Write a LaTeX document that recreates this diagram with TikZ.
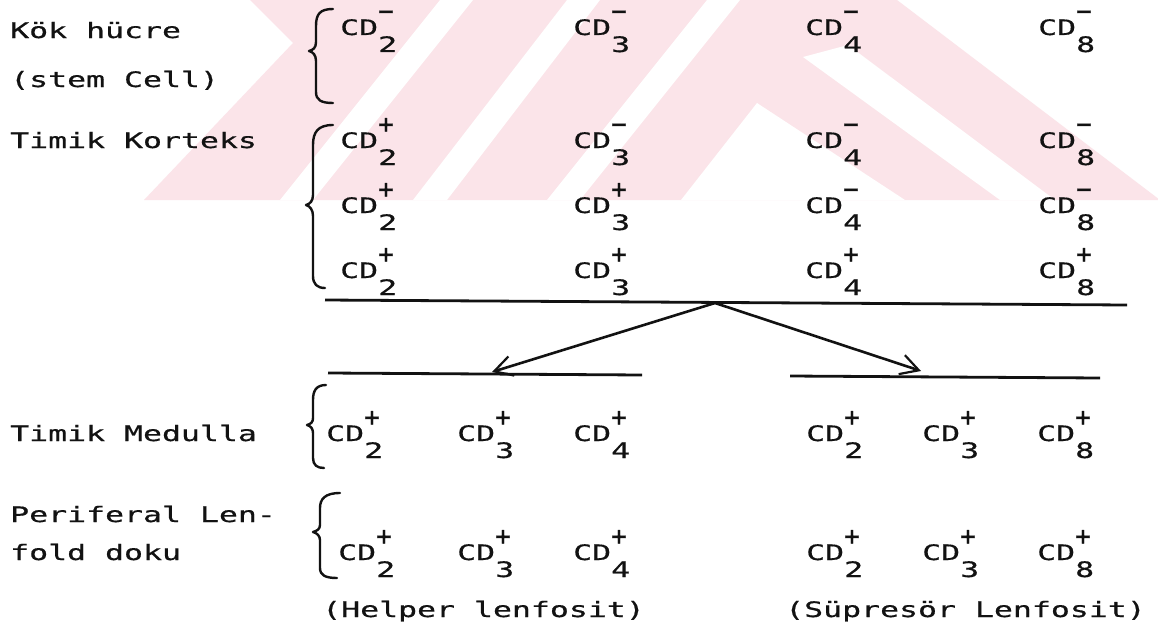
\documentclass[tikz,border=0pt]{standalone}
\usepackage{fontspec}
\usetikzlibrary{arrows.meta}
% typewriter-like lettering: a wide monospaced face
\newfontfamily\twfont[FakeStretch=1.48,FakeBold=0.6]{DejaVu Sans Mono}
\newfontfamily\sgfamily[FakeBold=1.2]{DejaVu Sans Mono}
\definecolor{wmpink}{RGB}{251,228,233}
\definecolor{ink}{RGB}{18,18,18}
% one "CD" marker: name, x, baseline, subscript digit, sign
\newcommand\cdterm[5]{%
  \node[tw] (#1) at (#2,#3) {CD};
  \node[tw] (#1-d) at ({#2+38},{#3+17}) {#4};
  \node[sg] (#1-s) at ({#2+46},{#3-15}) {#5};}
\begin{document}
\begin{tikzpicture}[x=1pt,y=-1pt,
  tw/.style={font={\fontsize{21.3}{24}\twfont}, anchor=base west, inner sep=0pt, text=ink},
  sg/.style={font={\fontsize{26}{28}\sgfamily}, anchor=base, inner sep=0pt, text=ink},
  rule/.style={draw=ink, line width=2.8pt},
  arr/.style={draw=ink, line width=2.6pt, -{Straight Barb[length=18pt,width=20pt,line width=2.2pt]}},
  brc/.style={draw=ink, line width=2.4pt, line cap=round, line join=round},
  wm/.style={fill=wmpink},
  wmgap/.style={fill=white}]
\useasboundingbox (0,0) rectangle (1158,626);
\fill[white] (0,0) rectangle (1158,626);

% pale striped emblem behind the upper rows
\begin{scope}
  \clip (0,0) rectangle (1158,200);
  \fill[wm] (144,200) -- (293,43) -- (250,0) -- (897,0) -- (1160,200) -- cycle;
  \fill[wmgap] (280,200) -- (440,0) -- (473,0) -- (313,200) -- cycle;
  \fill[wmgap] (413,200) -- (567,0) -- (600,0) -- (447,200) -- cycle;
  \fill[wmgap] (547,200) -- (707,0) -- (740,0) -- (580,200) -- cycle;
  \fill[wmgap] (681,200) -- (757,103) -- (905,200) -- cycle;
  \fill[wmgap] (803,57) -- (848,45) -- (1055,200) -- (1000,200) -- cycle;
\end{scope}

% row labels
\node[tw] (lkok)  at (10,38)  {Kök hücre};
\node[tw] (lstem) at (10,87)  {(stem Cell)};
\node[tw] (lkor)  at (10,148) {Timik Korteks};
\node[tw] (lmed)  at (10,441) {Timik Medulla};
\node[tw] (lper)  at (10,522) {Periferal Len-};
\node[tw] (lfold) at (10,560) {fold doku};
\node[tw] (lhelp) at (322,617) {(Helper lenfosit)};
\node[tw] (lsup)  at (785,617) {(Süpresör Lenfosit)};

% stem cell
\cdterm{s2}{340}{35}{2}{−}
\cdterm{s3}{573}{35}{3}{−}
\cdterm{s4}{805}{35}{4}{−}
\cdterm{s8}{1038}{35}{8}{−}
% thymic cortex
\cdterm{ka2}{340}{148}{2}{+}
\cdterm{ka3}{573}{148}{3}{−}
\cdterm{ka4}{805}{148}{4}{−}
\cdterm{ka8}{1038}{148}{8}{−}
\cdterm{kb2}{340}{213}{2}{+}
\cdterm{kb3}{573}{213}{3}{+}
\cdterm{kb4}{805}{213}{4}{−}
\cdterm{kb8}{1038}{213}{8}{−}
\cdterm{kc2}{340}{278}{2}{+}
\cdterm{kc3}{573}{278}{3}{+}
\cdterm{kc4}{805}{278}{4}{+}
\cdterm{kc8}{1038}{278}{8}{+}
% thymic medulla
\cdterm{mh2}{326}{441}{2}{+}
\cdterm{mh3}{457}{441}{3}{+}
\cdterm{mh4}{573}{441}{4}{+}
\cdterm{ms2}{806}{441}{2}{+}
\cdterm{ms3}{922}{441}{3}{+}
\cdterm{ms8}{1037}{441}{8}{+}
% peripheral lymphoid tissue
\cdterm{ph2}{338}{560}{2}{+}
\cdterm{ph3}{457}{560}{3}{+}
\cdterm{ph4}{573}{560}{4}{+}
\cdterm{ps2}{806}{560}{2}{+}
\cdterm{ps3}{922}{560}{3}{+}
\cdterm{ps8}{1037}{560}{8}{+}

% braces
\draw[brc] (333,9) .. controls (320,9) and (316,14) .. (316,26) -- (316,42)
  .. controls (316,48) and (313,50) .. (309,51) .. controls (313,52) and (316,55) .. (316,61)
  -- (316,92) .. controls (316,100) and (321,103) .. (333,103);
\draw[brc] (333,125) .. controls (318,125) and (313,132) .. (313,145) -- (313,195)
  .. controls (313,201) and (310,204) .. (306,205) .. controls (310,206) and (313,210) .. (313,216)
  -- (313,276) .. controls (313,284) and (317,288) .. (325,288);
\draw[brc] (326,385) .. controls (316,385) and (313,391) .. (313,400) -- (313,418)
  .. controls (313,422) and (311,424) .. (307,425) .. controls (311,426) and (313,429) .. (313,433)
  -- (313,458) .. controls (313,465) and (317,468) .. (324,468);
\draw[brc] (340,493) .. controls (325,493) and (320,499) .. (320,508) -- (320,525)
  .. controls (320,529) and (317,531) .. (313,532) .. controls (317,533) and (320,536) .. (320,540)
  -- (320,568) .. controls (320,575) and (325,578) .. (337,578);

% division rules and branching arrows
\coordinate (t0) at (325,300);
\coordinate (t1) at (1127,305);
\coordinate (ap) at (715,303);
\coordinate (l0) at (328,373);
\coordinate (l1) at (642,375);
\coordinate (r0) at (790,376);
\coordinate (r1) at (1100,378);
\coordinate (la) at (492,372);
\coordinate (ra) at (921,371);
\draw[rule] (t0) -- (t1);
\draw[rule] (l0) -- (l1);
\draw[rule] (r0) -- (r1);
\draw[arr] (ap) -- (la);
\draw[arr] (ap) -- (ra);
\end{tikzpicture}
\end{document}
